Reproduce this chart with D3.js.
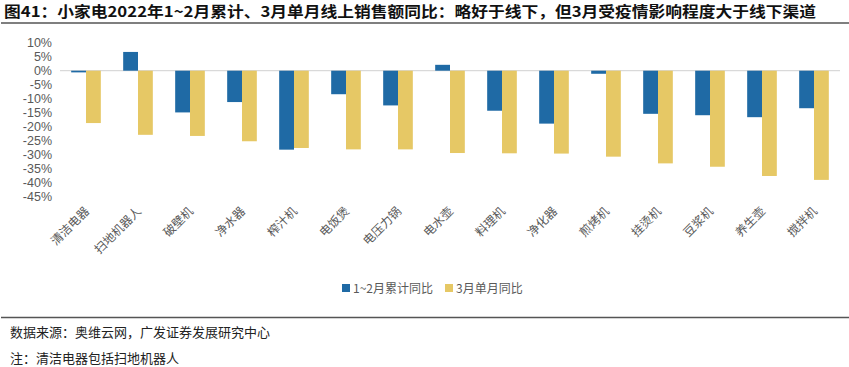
<!DOCTYPE html>
<html><head><meta charset="utf-8">
<script src="https://cdn.jsdelivr.net/npm/d3@7"></script>
<style>
html,body{margin:0;padding:0;background:#fff;}
svg{display:block;}
</style></head>
<body>
<svg id="c" width="849" height="367"></svg>
<script>
const categories = ["清洁电器","扫地机器人","破壁机","净水器","榨汁机","电饭煲","电压力锅","电水壶","料理机","净化器","煎烤机","挂烫机","豆浆机","养生壶","搅拌机"];
const cumulative12 = [-0.6, 6.7, -14.9, -11.2, -28.2, -8.4, -12.4, 2.1, -14.3, -18.9, -1.1, -15.4, -15.9, -16.6, -13.4];
const march = [-18.7, -22.9, -23.3, -25.2, -27.6, -28.1, -28.1, -29.4, -29.5, -29.6, -30.7, -33.1, -34.3, -37.6, -39.0];
const seriesNames = ["1~2月累计同比", "3月单月同比"];
const yTicks = [10, 5, 0, -5, -10, -15, -20, -25, -30, -35, -40, -45];
const title = "图41：小家电2022年1~2月累计、3月单月线上销售额同比：略好于线下，但3月受疫情影响程度大于线下渠道";
const source = "数据来源：奥维云网，广发证券发展研究中心";
const note = "注：清洁电器包括扫地机器人";

const colors = ["#1F6AA5", "#E6C865"];
const svg = d3.select("#c");

// title
svg.append("text").attr("x", 4).attr("y", 17)
  .attr("font-family", "'Noto Sans CJK SC', sans-serif").attr("font-weight", "bold")
  .attr("font-size", 15).attr("fill", "#111")
  .attr("textLength", 812).attr("lengthAdjust", "spacingAndGlyphs")
  .text(title);
svg.append("line").attr("x1", 1).attr("x2", 849).attr("y1", 23).attr("y2", 23)
  .attr("stroke", "#555").attr("stroke-width", 1.6);

const x0 = d3.scaleBand().domain(categories).range([60, 840]).paddingInner(0.43).paddingOuter(0.215);
const x1 = d3.scaleBand().domain([0,1]).range([0, x0.bandwidth()]);
const y = d3.scaleLinear().domain([-45, 10]).range([196.7, 42.7]);

// y axis labels
const yAxis = d3.axisLeft(y).tickValues(yTicks).tickFormat(d => d + "%").tickSize(0).tickPadding(0);
const yg = svg.append("g").attr("transform", "translate(52,0)").call(yAxis);
yg.select(".domain").remove();
yg.selectAll("text").attr("font-family", "Arial, 'Liberation Sans', sans-serif")
  .attr("font-size", 12.5).attr("fill", "#595959");

// zero line
svg.append("line").attr("x1", 60).attr("x2", 840).attr("y1", y(0)).attr("y2", y(0))
  .attr("stroke", "#d0d0d0").attr("stroke-width", 1);

const data = categories.map((c, i) => ({c, v: [cumulative12[i], march[i]]}));
const groups = svg.append("g").selectAll("g").data(data).join("g")
  .attr("transform", d => `translate(${x0(d.c)},0)`);
groups.selectAll("rect").data(d => d.v.map((v, k) => ({v, k}))).join("rect")
  .attr("x", d => x1(d.k)).attr("width", x1.bandwidth())
  .attr("y", d => Math.min(y(d.v), y(0))).attr("height", d => Math.abs(y(d.v) - y(0)))
  .attr("fill", d => colors[d.k]);

// x labels rotated
const xg = svg.append("g");
categories.forEach(c => {
  const cx = x0(c) + x0.bandwidth() / 2 + 4;
  xg.append("text").attr("transform", `translate(${cx},212) rotate(-45)`)
    .attr("text-anchor", "end")
    .attr("font-family", "'Noto Sans CJK SC', sans-serif").attr("font-size", 12)
    .attr("fill", "#595959").text(c);
});

// legend
const leg = [{x: 342, k: 0}, {x: 445, k: 1}];
leg.forEach(l => {
  svg.append("rect").attr("x", l.x).attr("y", 284).attr("width", 8).attr("height", 8).attr("fill", colors[l.k]);
  svg.append("text").attr("x", l.x + 11).attr("y", 292.5)
    .attr("font-family", "'Noto Sans CJK SC', sans-serif").attr("font-size", 12)
    .attr("fill", "#595959").text(seriesNames[l.k]);
});

// footer
svg.append("line").attr("x1", 1).attr("x2", 849).attr("y1", 317.5).attr("y2", 317.5)
  .attr("stroke", "#555").attr("stroke-width", 1.6);
svg.append("text").attr("x", 10).attr("y", 337)
  .attr("font-family", "'Noto Sans CJK SC', sans-serif").attr("font-size", 13)
  .attr("fill", "#222").text(source);
svg.append("text").attr("x", 10).attr("y", 363)
  .attr("font-family", "'Noto Sans CJK SC', sans-serif").attr("font-size", 13)
  .attr("fill", "#222").text(note);
</script>
</body></html>
